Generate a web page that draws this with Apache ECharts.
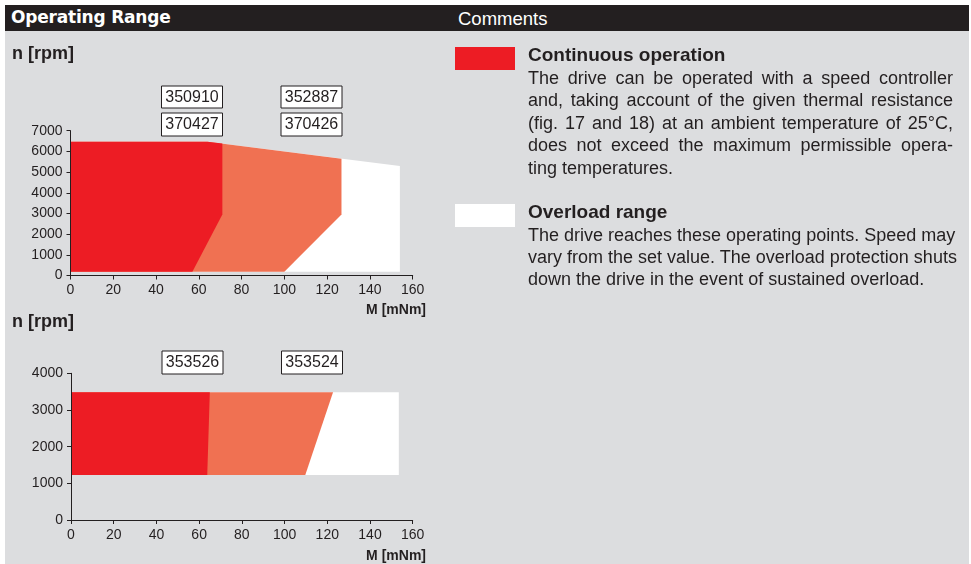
<!DOCTYPE html>
<html>
<head>
<meta charset="utf-8">
<script src="https://cdn.jsdelivr.net/npm/echarts@6/dist/echarts.min.js"></script>
<style>
body { margin: 0; background: #fff; }
#page { position: relative; width: 971px; height: 564px; overflow: hidden; font-family: "Liberation Sans", Arial, sans-serif; color: #231f20; }
.bar { position: absolute; left: 5px; top: 5px; width: 964px; height: 26px; background: #231f20; color: #fff; }
.bar .t1 { position: absolute; left: 6px; top: 2px; line-height: 26px; font: bold 17px "DejaVu Sans"; letter-spacing: -0.2px; }
.bar .t2 { position: absolute; left: 453px; top: 1px; line-height: 26px; font-size: 18.5px; }
.panel { position: absolute; left: 5px; top: 31px; width: 964px; height: 533px; background: #dcdddf; }
#chart { position: absolute; left: 0; top: 0; width: 971px; height: 564px; }
.swatch { position: absolute; left: 455px; width: 60px; height: 23px; }
.note { position: absolute; left: 528px; width: 425px; }
.note .h { font-size: 19px; font-weight: bold; height: 22px; line-height: 22px; white-space: nowrap; }
.note .l { font-size: 18px; white-space: nowrap; text-align: justify; text-align-last: justify; }
.note .l.last { text-align-last: left; }
</style>
</head>
<body>
<div id="page">
  <div class="bar"><span class="t1">Operating Range</span><span class="t2">Comments</span></div>
  <div class="panel"></div>
  <div id="chart"></div>

  <div class="swatch" style="top:47px;background:#ed1c24"></div>
  <div class="note" style="top:44px">
    <div class="h">Continuous operation</div>
    <div style="line-height:22.4px;margin-top:1px">
      <div class="l">The drive can be operated with a speed controller</div>
      <div class="l">and, taking account of the given thermal resistance</div>
      <div class="l">(fig. 17 and 18) at an ambient temperature of 25°C,</div>
      <div class="l">does not exceed the maximum permissible opera-</div>
      <div class="l last">ting temperatures.</div>
    </div>
  </div>

  <div class="swatch" style="top:204px;background:#fff"></div>
  <div class="note" style="top:200.5px">
    <div class="h">Overload range</div>
    <div style="line-height:22.2px;margin-top:1px">
      <div class="l">The drive reaches these operating points. Speed may</div>
      <div class="l">vary from the set value. The overload protection shuts</div>
      <div class="l last">down the drive in the event of sustained overload.</div>
    </div>
  </div>
</div>

<script>
// torque axis [mNm]
const xMin = 0, xMax = 160, xStep = 20;
// speed axes [rpm]
const y1Max = 7000, y2Max = 4000, yStep = 1000;

// upper diagram: polygons as [M, n]
const top_overload = [[0, 180], [0, 6470], [64, 6470], [154, 5290], [154, 180]];
const top_motorB = [[0, 180], [0, 6470], [64, 6470], [126.7, 5645], [126.7, 2950], [100, 180]];
const top_motorA = [[0, 180], [0, 6470], [64, 6470], [71, 6380], [71, 2950], [57, 180]];
const top_labelsA = ['350910', '370427'];
const top_labelsB = ['352887', '370426'];

// lower diagram
const bot_overload = [[0, 1230], [0, 3480], [153.5, 3480], [153.5, 1230]];
const bot_motorB = [[0, 1230], [0, 3480], [122.7, 3480], [109.7, 1230]];
const bot_motorA = [[0, 1230], [0, 3480], [65, 3480], [63.8, 1230]];
const bot_labelsA = ['353526'];
const bot_labelsB = ['353524'];

const INK = '#231f20';
const RED = '#ed1c24';
const SALMON = '#f07152';
const WHITE = '#ffffff';

function area(idx, points, color) {
  return {
    type: 'custom',
    xAxisIndex: idx,
    yAxisIndex: idx,
    silent: true,
    z: 1,
    data: points,
    renderItem: function (params, api) {
      if (params.dataIndex !== 0) return;
      return {
        type: 'polygon',
        shape: { points: points.map(p => api.coord(p)) },
        style: { fill: color }
      };
    }
  };
}

function xAxis(idx) {
  return {
    gridIndex: idx, type: 'value', min: xMin, max: xMax, interval: xStep, z: 5,
    axisLine: { lineStyle: { color: INK, width: 1 } },
    axisTick: { length: 4, lineStyle: { color: INK } },
    axisLabel: { color: INK, fontSize: 14, margin: 8, fontFamily: 'Liberation Sans', formatter: v => String(v) },
    splitLine: { show: false }
  };
}

function yAxis(idx, max) {
  return {
    gridIndex: idx, type: 'value', min: 0, max: max, interval: yStep, z: 5,
    axisLine: { show: true, lineStyle: { color: INK, width: 1 } },
    axisTick: { show: true, length: 4, lineStyle: { color: INK } },
    axisLabel: { color: INK, fontSize: 14, margin: 8, fontFamily: 'Liberation Sans', formatter: v => String(v) },
    splitLine: { show: false }
  };
}

function box(x, y, h, txt) {
  return {
    type: 'group', left: x, top: y,
    children: [
      { type: 'rect', shape: { x: 0, y: 0, width: 61, height: h }, style: { fill: '#fff', stroke: INK, lineWidth: 1 } },
      { type: 'text', x: 30.5, y: h / 2 + 0.5, style: { text: txt, fill: INK, font: '16px "Liberation Sans"', align: 'center', verticalAlign: 'middle' } }
    ]
  };
}

function bold(x, y, txt, size, align) {
  return { type: 'text', left: align === 'right' ? null : x, right: align === 'right' ? 971 - x : null, top: y,
    style: { text: txt, fill: INK, font: 'bold ' + size + 'px "Liberation Sans"' } };
}

const chart = echarts.init(document.getElementById('chart'), null, { renderer: 'canvas' });
chart.setOption({
  animation: false,
  backgroundColor: 'transparent',
  grid: [
    { left: 70.5, top: 130.7, width: 342.2, height: 144.8 },
    { left: 71, top: 373.3, width: 341.7, height: 146.7 }
  ],
  xAxis: [xAxis(0), xAxis(1)],
  yAxis: [yAxis(0, y1Max), yAxis(1, y2Max)],
  series: [
    area(0, top_overload, WHITE),
    area(0, top_motorB, SALMON),
    area(0, top_motorA, RED),
    area(1, bot_overload, WHITE),
    area(1, bot_motorB, SALMON),
    area(1, bot_motorA, RED)
  ],
  graphic: [
    bold(12, 45, 'n [rpm]', 18),
    bold(426, 303, 'M [mNm]', 14, 'right'),
    bold(12, 313, 'n [rpm]', 18),
    bold(426, 549, 'M [mNm]', 14, 'right'),
    box(161, 85.5, 22, top_labelsA[0]),
    box(161, 112.5, 23, top_labelsA[1]),
    box(280.5, 85.5, 22, top_labelsB[0]),
    box(280.5, 112.5, 23, top_labelsB[1]),
    box(161.5, 350.5, 23, bot_labelsA[0]),
    box(281, 350.5, 23, bot_labelsB[0])
  ]
});
window.addEventListener('resize', () => chart.resize());
</script>
</body>
</html>
